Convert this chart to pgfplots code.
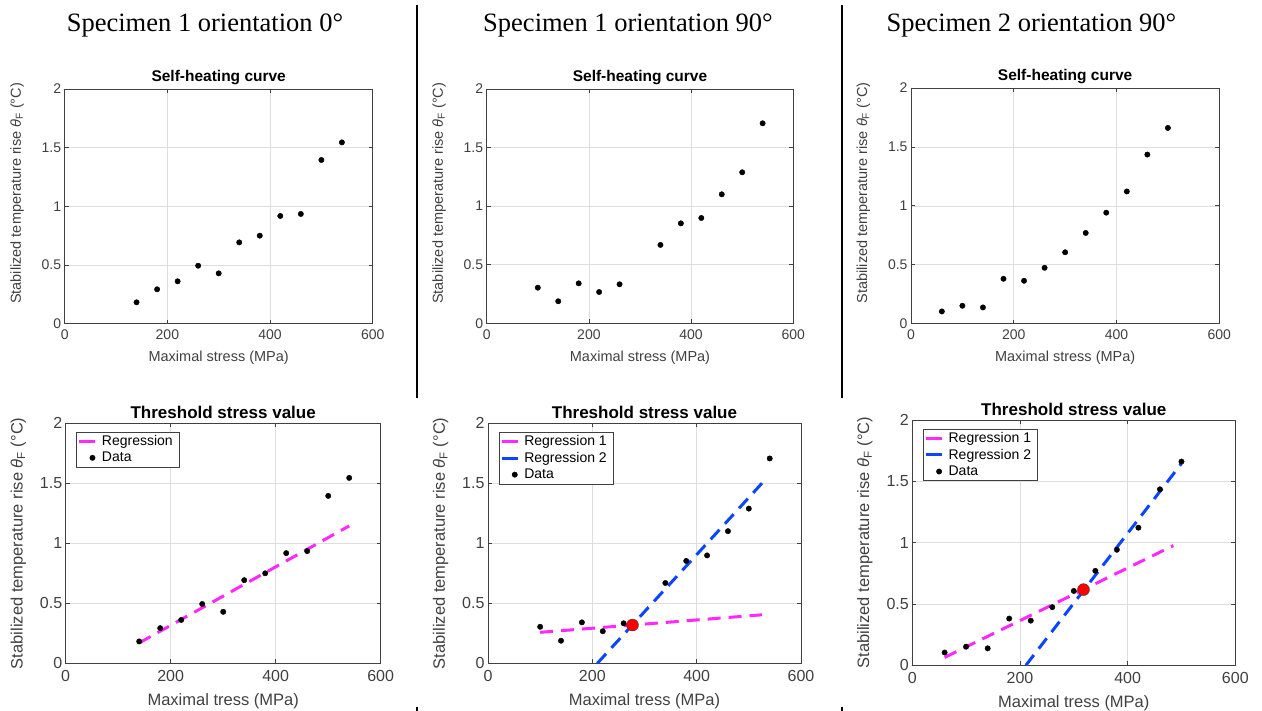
\documentclass[border=0pt]{standalone}
\usepackage{pgfplots}
\pgfplotsset{compat=1.18}
\usepackage{fontspec}
\setmainfont{Liberation Sans}
\newfontfamily\seriffont{Liberation Serif}
\definecolor{pinkc}{RGB}{255,40,255}
\definecolor{bluec}{RGB}{10,70,255}
\definecolor{framec}{RGB}{64,64,64}

\pgfplotstableread{
x y
140 0.182
180 0.293
220 0.361
260 0.494
300 0.429
340 0.693
380 0.750
420 0.918
460 0.935
500 1.395
540 1.545
}\dataA
\pgfplotstableread{
x y
100 0.304
140 0.188
180 0.341
220 0.267
260 0.333
340 0.669
380 0.853
420 0.899
460 1.101
500 1.289
540 1.707
}\dataB
\pgfplotstableread{
x y
60 0.104
100 0.152
140 0.138
180 0.381
220 0.364
260 0.474
300 0.606
340 0.770
380 0.942
420 1.122
460 1.435
500 1.661
}\dataC

\pgfplotsset{
  mystyle/.style={
    scale only axis,
    xmin=0, xmax=600, ymin=0, ymax=2,
    xtick={0,200,400,600}, ytick={0,0.5,1,1.5,2},
    grid=major, major grid style={black!13, line width=0.6pt},
    axis line style={framec, line width=0.7pt},
    tick style={framec, line width=0.7pt},
    tick align=inside, major tick length=4pt,
    ticklabel style={font=\fontsize{14}{16}\selectfont, text=black!75},
    xticklabel style={yshift=-3pt},
    /pgf/number format/assume math mode=true,
    label style={font=\fontsize{14.5}{17}\selectfont, text=black!75},
    title style={font=\fontsize{15.5}{18}\selectfont\bfseries, yshift=-5pt},
    ylabel={Stabilized temperature rise {\itshape θ}\textsubscript{F} (°C)},
    ylabel style={at={(ticklabel cs:0.555)}, yshift=11pt},
    xlabel style={yshift=-4pt},
    legend cell align=left,
    legend style={at={(0.005,0.965)}, xshift=9pt, anchor=north west, draw=framec, fill=white,
      font=\fontsize{14}{16.5}\selectfont, inner sep=1.5pt, row sep=1.2pt,
      nodes={inner xsep=5pt}},
  },
  botstyle/.style={
    mystyle,
    ticklabel style={font=\fontsize{16}{18}\selectfont, text=black!75},
    xticklabel style={yshift=-1pt},
    label style={font=\fontsize{16.5}{19}\selectfont, text=black!75},
    title style={font=\fontsize{17}{20}\selectfont\bfseries, yshift=0pt},
    ylabel={Stabilized temperature rise {\itshape θ}\textsubscript{F} (°C)},
    ylabel style={at={(ticklabel cs:0.5)}, yshift=-4pt},
    xlabel style={yshift=-1pt},
  },
  dat/.style={only marks, mark=*, mark size=2.7pt, black},
  regp/.style={pinkc, line width=3pt, dash pattern=on 13pt off 8pt,
    legend image code/.code={\draw[##1,dash pattern=on 16pt off 0pt] (-2pt,0pt) -- (14pt,0pt);}},
  regb/.style={bluec, line width=3pt, dash pattern=on 13pt off 8pt,
    legend image code/.code={\draw[##1,dash pattern=on 16pt off 0pt] (-2pt,0pt) -- (14pt,0pt);}},
  datleg/.style={legend image code/.code={\fill[black] (11pt,0pt) circle (2.7pt);}},
}

\begin{document}
\begin{tikzpicture}
\useasboundingbox (0,0) rectangle (1262pt,711pt);
% column titles
\node[anchor=base, font=\fontsize{26.5}{30}\seriffont] at (205pt,679pt) {Specimen 1 orientation 0°};
\node[anchor=base, font=\fontsize{26.5}{30}\seriffont] at (628pt,679pt) {Specimen 1 orientation 90°};
\node[anchor=base, font=\fontsize{26.5}{30}\seriffont] at (1031.5pt,679pt) {Specimen 2 orientation 90°};
% separators
\draw[black, line width=2pt] (416.7pt,706pt) -- (416.7pt,313pt);
\draw[black, line width=2pt] (842pt,706pt) -- (842pt,313pt);
\draw[black, line width=2pt] (416.7pt,0pt) -- (416.7pt,4pt);
\draw[black, line width=2pt] (842pt,0pt) -- (842pt,4pt);

% top row
\begin{axis}[mystyle, at={(64.7pt,387.3pt)}, anchor=south west, width=308pt, height=234.7pt,
  title={Self-heating curve}, xlabel={Maximal stress (MPa)}]
\addplot[dat] table[x=x,y=y] {\dataA};
\end{axis}
\begin{axis}[mystyle, at={(486.7pt,387.7pt)}, anchor=south west, width=306.6pt, height=234.3pt,
  title={Self-heating curve}, xlabel={Maximal stress (MPa)}]
\addplot[dat] table[x=x,y=y] {\dataB};
\end{axis}
\begin{axis}[mystyle, at={(911pt,387.3pt)}, anchor=south west, width=308.3pt, height=235.7pt,
  title={Self-heating curve}, xlabel={Maximal stress (MPa)}]
\addplot[dat] table[x=x,y=y] {\dataC};
\end{axis}

% bottom row
\begin{axis}[botstyle, at={(65.7pt,47.7pt)}, anchor=south west, width=315pt, height=240pt,
  title={Threshold stress value}, xlabel={Maximal tress (MPa)}]
\addplot[regp] coordinates {(140,0.17) (540,1.145)};
\addlegendentry{Regression}
\addplot[dat, datleg] table[x=x,y=y] {\dataA};
\addlegendentry{Data}
\end{axis}
\begin{axis}[botstyle, at={(488pt,47.7pt)}, anchor=south west, width=313pt, height=240pt,
  title={Threshold stress value}, xlabel={Maximal tress (MPa)}]
\addplot[regp] coordinates {(100,0.258) (525,0.404)};
\addlegendentry{Regression 1}
\addplot[regb] coordinates {(209.6,0) (532,1.533)};
\addlegendentry{Regression 2}
\addplot[dat, datleg] table[x=x,y=y] {\dataB};
\addlegendentry{Data}
\addplot[only marks, mark=*, mark size=6pt, fill=red, draw=black!75, forget plot] coordinates {(277,0.319)};
\end{axis}
\begin{axis}[botstyle, at={(912.3pt,45.7pt)}, anchor=south west, width=323pt, height=245.3pt,
  title={Threshold stress value}, xlabel={Maximal tress (MPa)}]
\addplot[regp] coordinates {(60,0.064) (485,0.976)};
\addlegendentry{Regression 1}
\addplot[regb] coordinates {(211,0) (500,1.645)};
\addlegendentry{Regression 2}
\addplot[dat, datleg] table[x=x,y=y] {\dataC};
\addlegendentry{Data}
\addplot[only marks, mark=*, mark size=6pt, fill=red, draw=black!75, forget plot] coordinates {(318,0.617)};
\end{axis}
\end{tikzpicture}
\end{document}
